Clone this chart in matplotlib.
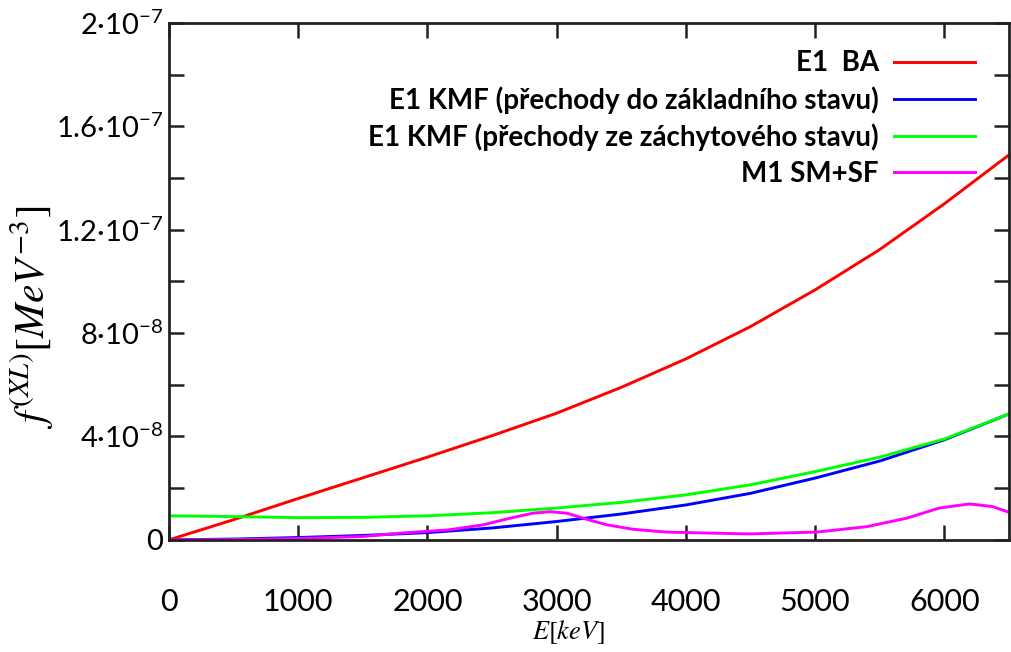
import numpy as np
import matplotlib.pyplot as plt
from matplotlib.ticker import MultipleLocator, FuncFormatter

plt.rcParams['mathtext.fontset'] = 'custom'
plt.rcParams['mathtext.rm'] = 'STIXGeneral'
plt.rcParams['mathtext.it'] = 'STIXGeneral:italic'
plt.rcParams['mathtext.sf'] = 'Lato'

# energies [keV] and read-off strength values
E_ba = [0, 500, 1000, 1500, 2000, 2500, 3000, 3500, 4000, 4500, 5000, 5500, 6000, 6500]
f_ba = [0, 7.8e-9, 1.6e-8, 2.4e-8, 3.2e-8, 4.03e-8, 4.9e-8, 5.9e-8, 7.0e-8, 8.25e-8,
        9.67e-8, 1.123e-7, 1.30e-7, 1.489e-7]

E_kmf = [0, 500, 1000, 1500, 2000, 2500, 3000, 3500, 4000, 4500, 5000, 5500, 6000, 6500]
f_kmf_gs = [0, 0.3e-9, 0.9e-9, 1.7e-9, 2.8e-9, 4.6e-9, 7.1e-9, 1.0e-8, 1.35e-8,
            1.8e-8, 2.39e-8, 3.05e-8, 3.87e-8, 4.87e-8]
f_kmf_cap = [9.3e-9, 9.0e-9, 8.6e-9, 8.7e-9, 9.3e-9, 1.05e-8, 1.23e-8, 1.45e-8, 1.74e-8,
             2.13e-8, 2.64e-8, 3.2e-8, 3.9e-8, 4.87e-8]

E_m1 = [0, 500, 1000, 1500, 1790, 2170, 2430, 2640, 2815, 2950, 3080, 3230, 3390, 3590,
        3850, 4110, 4490, 5010, 5400, 5710, 5960, 6195, 6370, 6500]
f_m1 = [0, 0.1e-9, 0.5e-9, 1.3e-9, 2.6e-9, 3.9e-9, 5.8e-9, 8.4e-9, 1.03e-8, 1.09e-8,
        1.03e-8, 8.0e-9, 5.8e-9, 4.1e-9, 3.0e-9, 2.7e-9, 2.3e-9, 3.0e-9, 5.1e-9, 8.4e-9,
        1.23e-8, 1.39e-8, 1.29e-8, 1.07e-8]

labels = ['E1  BA',
          'E1 KMF (přechody do základního stavu)',
          'E1 KMF (přechody ze záchytového stavu)',
          'M1 SM+SF']

fig = plt.figure(figsize=(10.12, 6.52), dpi=100)
ax = fig.add_axes([0.167, 0.172, 0.830, 0.793])

ax.plot(E_ba, f_ba, color='#ff0000', lw=2.1, label=labels[0])
ax.plot(E_kmf, f_kmf_gs, color='#0000ff', lw=2.1, label=labels[1])
ax.plot(E_kmf, f_kmf_cap, color='#00ff00', lw=2.1, label=labels[2])
ax.plot(E_m1, f_m1, color='#ff00ff', lw=2.1, label=labels[3])

ax.set_xlim(0, 6500)
ax.set_ylim(0, 2e-7)

ax.xaxis.set_major_locator(MultipleLocator(1000))
ax.yaxis.set_major_locator(MultipleLocator(4e-8))
ax.yaxis.set_minor_locator(MultipleLocator(2e-8))


def yfmt(v, pos):
    if v <= 1e-12:
        return '0'
    e = int(np.floor(np.log10(v)))
    m = v / 10 ** e
    ms = ('%.1f' % m).rstrip('0').rstrip('.')
    return ms + '·10' + r'$^{\mathsf{-%d}}$' % (-e)


ax.yaxis.set_major_formatter(FuncFormatter(yfmt))

ax.tick_params(which='both', direction='in', length=11, width=1.8,
               top=True, right=True, color='#222222')
ax.tick_params(axis='y', which='major', labelsize=21, pad=4)
ax.tick_params(axis='x', which='major', labelsize=22, pad=35)
for lab in ax.get_yticklabels() + ax.get_xticklabels():
    lab.set_family('Lato')

for sp in ax.spines.values():
    sp.set_linewidth(2)
    sp.set_color('#222222')

ax.set_xlabel(r'$E[keV]$', fontsize=19)
ax.xaxis.set_label_coords(0.475, -0.152)
ax.set_ylabel(r'$f^{(XL)}[MeV^{-3}]$', fontsize=30)
ax.yaxis.set_label_coords(-0.135, 0.43)

leg = ax.legend(loc='upper right', bbox_to_anchor=(0.9595, 0.947), frameon=False,
                markerfirst=False, borderaxespad=0, borderpad=0,
                prop={'family': 'Lato', 'weight': 'bold', 'size': 20},
                handlelength=2.9, handletextpad=0.55, labelspacing=0.35)
for t in leg.get_texts():
    t.set_ha('right')

fig.savefig('out.png', dpi=100)
